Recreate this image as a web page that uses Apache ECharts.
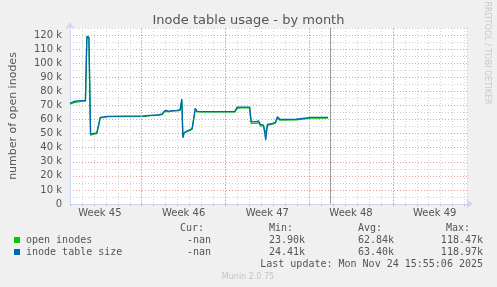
<!DOCTYPE html>
<html><head><meta charset="utf-8">
<script src="https://cdn.jsdelivr.net/npm/echarts@6/dist/echarts.min.js"></script>
<style>html,body{margin:0;padding:0;background:#f0f0f0;}#c{width:497px;height:287px;}</style>
</head><body><div id="c"></div>
<script>
// day offsets relative to Mon Nov 10 00:00 (start of Week 46)
const days = [-6.0,-5.67,-5.34,-5.0,-4.71,-4.59,-4.42,-4.28,-4.09,-3.76,-3.63,-3.47,-3.34,-2.85,-1.5,0.14,0.72,1.30,1.72,1.88,2.05,2.22,2.38,2.55,2.71,2.96,3.21,3.35,3.44,3.54,3.71,3.96,4.21,4.33,4.48,4.62,5.04,6.5,7.78,7.98,8.36,9.02,9.15,9.60,9.77,9.93,10.18,10.37,10.51,10.84,11.18,11.34,11.43,11.55,12.09,12.92,13.05,14.17,15.58];
const tableSizeK = [71.5,72.8,73.2,73.4,73.4,118.97,118.5,49.5,50.0,50.5,51.0,61.5,62.5,62.3,62.4,62.5,63.0,63.2,64.0,66.0,66.5,65.8,66.8,66.3,66.8,66.5,67.0,74.5,47.0,50.5,51.5,52.5,53.5,60.0,68.0,65.8,65.6,65.6,65.6,68.8,68.8,68.8,58.5,58.5,59.0,56.5,56.0,45.5,56.5,57.0,58.0,62.0,62.5,60.2,60.0,60.2,61.6,61.5,61.5];
const openInodesK = [71.0,72.0,72.5,73.0,73.0,118.47,118.0,49.0,49.5,50.0,50.5,61.0,62.2,62.0,62.1,62.2,62.8,63.0,63.5,65.5,66.0,65.5,66.3,66.0,66.5,66.2,66.5,73.5,47.5,50.3,51.2,52.0,53.0,59.0,67.5,65.5,65.4,65.4,65.4,68.0,68.2,68.5,57.3,57.3,57.8,55.5,55.5,50.5,55.8,56.5,57.5,61.0,61.5,59.5,59.7,59.8,61.0,61.0,61.0];
const weekStarts = [0, 7, 14, 21];
const weekCenters = [-3.5, 3.5, 10.5, 17.5, 24.5];
const weekLabels = ['Week 45','Week 46','Week 47','Week 48','Week 49'];
const nowDay = 15.74;
const seriesNames = ['open inodes','inode table size'];
const statHeaders = ['Cur:','Min:','Avg:','Max:'];
const statRows = [
  ['-nan','23.90k','62.84k','118.47k'],
  ['-nan','24.41k','63.40k','118.97k']
];
const lastUpdate = 'Last update: Mon Nov 24 15:55:06 2025';

const chart = echarts.init(document.getElementById('c'), null, {renderer:'canvas'});
const FONT = 'DejaVu Sans';
const MONO = 'DejaVu Sans Mono';
const red = '#e89c9c', gray = '#d2d2d2', axisCol = '#cfd6f8';
const xMin = -6, xMax = 27.2;

const openData = days.map((d,i)=>[d, openInodesK[i]*1000]);
const sizeData = days.map((d,i)=>[d, tableSizeK[i]*1000]);

const gText = [];
const colX = [204, 269, 358, 483];
const colAlign = ['right','left','left','right'];
statHeaders.forEach((h,i)=>{
  const x = i===0 ? 204 : (i===3 ? 470 : colX[i]);
  gText.push({type:'text', x:x, y:228, style:{text:h, font:'10px '+MONO, fill:'#555', align: (i===0||i===3)?'right':'left', verticalAlign:'middle'}});
});
statRows.forEach((row,r)=>{
  row.forEach((v,i)=>{
    const x = i===0 ? 211 : colX[i];
    gText.push({type:'text', x:x, y:240+12*r, style:{text:v, font:'10px '+MONO, fill:'#555', align:colAlign[i], verticalAlign:'middle'}});
  });
});
gText.push({type:'text', x:483, y:264, style:{text:lastUpdate, font:'10px '+MONO, fill:'#555', align:'right', verticalAlign:'middle'}});
gText.push({type:'text', x:248, y:277, style:{text:'Munin 2.0.75', font:'8px '+FONT, fill:'#c4c4c4', align:'center', verticalAlign:'middle'}});
gText.push({type:'text', x:487, y:53, rotation:-Math.PI/2, style:{text:'RRDTOOL / TOBI OETIKER', font:'8px '+FONT, fill:'#c8c8c8', align:'center', verticalAlign:'middle'}});

chart.setOption({
  backgroundColor:'#f0f0f0',
  animation:false,
  title:{text:'Inode table usage - by month', left:'center', top:9, textStyle:{fontFamily:FONT, fontSize:13, fontWeight:'normal', color:'#555'}},
  grid:{left:67, right:30, top:28, bottom:83, show:true, backgroundColor:'#ffffff', borderWidth:0},
  legend:{data:seriesNames, orient:'vertical', left:14, top:234, padding:0, itemWidth:6, itemHeight:6, itemGap:0, icon:'rect',
    textStyle:{fontFamily:MONO, fontSize:10, color:'#555', lineHeight:12, padding:[0,0,0,1]}, selectedMode:false},
  xAxis:[
    {type:'value', min:xMin, max:xMax, interval:0.5, position:'bottom',
      axisLine:{show:false}, axisTick:{show:false}, splitLine:{show:false},
      axisLabel:{fontFamily:FONT, fontSize:10, color:'#555', margin:4, showMinLabel:false, showMaxLabel:false,
        formatter:v=>{const k=weekCenters.findIndex(c=>Math.abs(c-v)<1e-6);return k>=0?weekLabels[k]:'';}}},
    {type:'value', min:xMin, max:xMax, interval:1, position:'bottom',
      axisLine:{show:true, onZero:false, lineStyle:{color:axisCol, width:1}, symbol:['none','arrow'], symbolSize:[7,7], symbolOffset:[0,6]},
      axisTick:{show:true, length:2, lineStyle:{color:'#bbb'}},
      axisLabel:{show:false},
      splitLine:{show:true, lineStyle:{type:[1,2], width:1, color:gray}}}
  ],
  yAxis:{type:'value', min:0, max:125000, interval:5000,
    name:'number of open inodes', nameLocation:'middle', nameGap:51,
    nameTextStyle:{fontFamily:FONT, fontSize:11, color:'#555'},
    axisLine:{show:true, onZero:false, lineStyle:{color:axisCol, width:1}, symbol:['none','arrow'], symbolSize:[7,7], symbolOffset:[0,6]},
    axisTick:{show:false},
    axisLabel:{fontFamily:FONT, fontSize:10, color:'#555', margin:8,
      formatter:v=> (v%10000===0) ? (v===0?'0':(v/1000)+' k') : ''},
    splitLine:{show:true, lineStyle:{type:[1,2], width:1, color:[red,gray]}}},
  graphic:gText,
  series:[
    {name:seriesNames[0], type:'line', xAxisIndex:1, data:openData, showSymbol:false, symbol:'none',
      lineStyle:{color:'#00cc00', width:1.3}, itemStyle:{color:'#00cc00'},
      markLine:{silent:true, symbol:'none', label:{show:false}, lineStyle:{color:red, type:[1,2], width:1},
        data:weekStarts.map(d=>({xAxis:d}))}},
    {name:seriesNames[1], type:'line', xAxisIndex:1, data:sizeData, showSymbol:false, symbol:'none',
      lineStyle:{color:'#0066b3', width:1.3}, itemStyle:{color:'#0066b3'},
      markLine:{silent:true, symbol:'none', label:{show:false}, lineStyle:{color:'#999', type:'solid', width:1},
        data:[{xAxis:nowDay}]}}
  ]
});
</script></body></html>
